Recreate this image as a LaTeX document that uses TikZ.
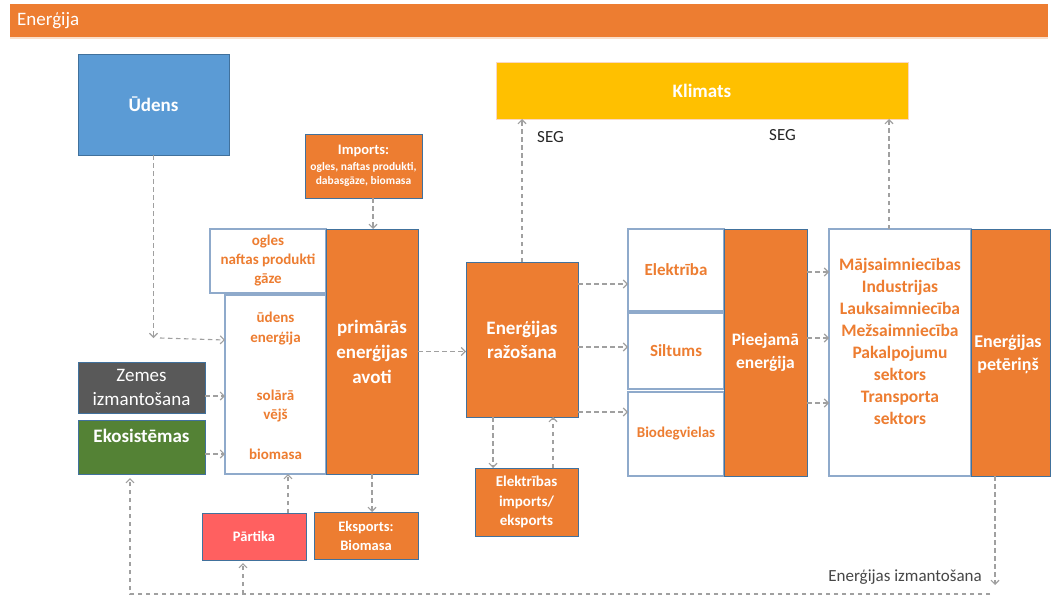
\documentclass[tikz,border=0pt]{standalone}
\usepackage{fontspec}
\setmainfont{Carlito}
\usetikzlibrary{arrows.meta}
\definecolor{orng}{HTML}{ED7D31}
\definecolor{bluebx}{HTML}{5B9BD5}
\definecolor{greybx}{HTML}{595959}
\definecolor{greenbx}{HTML}{548235}
\definecolor{yellowbx}{HTML}{FFC000}
\definecolor{redbx}{HTML}{FF6060}
\definecolor{bordc}{HTML}{41719C}
\definecolor{wbord}{HTML}{8FAACB}
\definecolor{arrc}{HTML}{A0A0A0}
\definecolor{darktxt}{HTML}{262626}
\newcommand\myfs[2]{\fontsize{#1}{#2}\selectfont}
\begin{document}
\begin{tikzpicture}[x=1pt,y=-1pt,
  bx/.style={draw=bordc, line width=0.8pt, outer sep=0pt, inner sep=0pt, anchor=north west, align=center, text=white, font=\bfseries},
  wb/.style={bx, fill=white, draw=wbord, line width=1.3pt, text=orng},
  arr/.style={draw=arrc, line width=1.1pt, dash pattern=on 4.5pt off 3.5pt, -{Straight Barb[length=4pt,width=8pt]}},
  lbl/.style={inner sep=0pt, align=center, text=orng, font=\bfseries}]
\useasboundingbox (0,0) rectangle (1052,599);
\fill[white] (0,0) rectangle (1052,599);
% title bar
\node[anchor=north west, fill=orng, minimum width=1038pt, minimum height=33pt, inner sep=0pt, outer sep=0pt] (bar) at (10,4) {};
\fill[orng!25] (bar.south west) rectangle ([yshift=-2pt]bar.south east);
\node[anchor=west, text=white, inner sep=0pt, font=\myfs{19}{23}] (ttl) at (17,21) {Enerģija};
% boxes
\node[bx, fill=bluebx, minimum width=151pt, minimum height=101pt, font=\bfseries\myfs{19}{23}] (ud) at (78,54) {Ūdens};
\node[bx, fill=yellowbx, draw=orng!30, minimum width=412pt, minimum height=57pt, font=\bfseries\myfs{19}{23}] (klim) at (496,62) {Klimats};
\node[bx, fill=orng, minimum width=117pt, minimum height=64pt, font=\bfseries\myfs{11.5}{14}] (imp) at (305,134) {{\myfs{14.5}{14}Imports:}\\[2pt]ogles, naftas produkti,\\dabasgāze, biomasa};
\node[wb, minimum width=116pt, minimum height=64pt, font=\bfseries\myfs{15}{19}] (og) at (210,229) {ogles\\naftas produkti\\gāze};
\node[wb, minimum width=101pt, minimum height=179pt] (ue) at (225,295) {};
\node[bx, fill=orng, minimum width=92pt, minimum height=245pt, font=\bfseries\myfs{19}{25}] (prim) at (326,229) {primārās\\enerģijas\\avoti};
\node[bx, fill=greybx, minimum width=127pt, minimum height=51pt, font=\myfs{19}{24}] (zem) at (78,362) {Zemes\\izmantošana};
\node[bx, fill=greenbx, minimum width=127pt, minimum height=54pt] (eko) at (78,420) {};
\node[bx, fill=orng, minimum width=112pt, minimum height=155pt, font=\bfseries\myfs{19}{24}] (raz) at (466,262) {Enerģijas\\ražošana};
\node[bx, fill=orng, minimum width=103pt, minimum height=68pt, font=\bfseries\myfs{15}{19.5}] (elim) at (475,468) {Elektrības\\imports/\\eksports};
\node[bx, fill=redbx, minimum width=104pt, minimum height=47pt, font=\bfseries\myfs{14.5}{18}] (part) at (202,513) {Pārtika};
\node[bx, fill=orng, minimum width=104pt, minimum height=47pt, font=\bfseries\myfs{14.5}{19}] (eksp) at (314,512) {Eksports:\\Biomasa};
\node[wb, minimum width=96pt, minimum height=82pt, font=\bfseries\myfs{17}{20}] (elek) at (628,229) {Elektrība};
\node[wb, minimum width=96pt, minimum height=76pt, font=\bfseries\myfs{17}{20}] (silt) at (628,313) {Siltums};
\node[wb, minimum width=96pt, minimum height=84pt, font=\bfseries\myfs{15}{18}] (bio) at (628,392) {Biodegvielas};
\node[bx, fill=orng, minimum width=83pt, minimum height=247pt, font=\bfseries\myfs{17.5}{23}] (piee) at (724,229) {Pieejamā\\enerģija};
\node[wb, minimum width=142pt, minimum height=247pt] (cons) at (829,229) {};
\node[bx, fill=orng, minimum width=79pt, minimum height=247pt] (pet) at (971,229) {};
% texts inside boxes
\node[lbl, font=\bfseries\myfs{15}{20}] (t1) at (275.5,329) {ūdens\\enerģija};
\node[lbl, font=\bfseries\myfs{15}{19}] (t2) at (275.5,406.5) {solārā\\vējš};
\node[lbl, font=\bfseries\myfs{15}{19}] (t3) at (275.5,454) {biomasa};
\node[lbl, text=white, font=\bfseries\myfs{19}{23}] (tek) at (141.5,436) {Ekosistēmas};
\node[lbl, font=\bfseries\myfs{17.5}{22}] (tcons) at (900,341.5) {Mājsaimniecības\\Industrijas\\Lauksaimniecība\\Mežsaimniecība\\Pakalpojumu\\sektors\\Transporta\\sektors};
\node[lbl, text=white, font=\bfseries\myfs{18}{23}] (tpet) at (1008,354.5) {Enerģijas\\petēriņš};
% labels
\node[anchor=west, inner sep=0pt, text=darktxt, font=\myfs{17}{20}] (seg1) at (537,137) {SEG};
\node[anchor=west, inner sep=0pt, text=darktxt, font=\myfs{17}{20}] (seg2) at (769,135) {SEG};
\node[anchor=east, inner sep=0pt, text=darktxt!85, font=\myfs{17}{20}] (izm) at (982,577) {Enerģijas izmantošana};
% coordinates
\coordinate (udc) at (153.5,338);
\coordinate (loopR) at (990,594);
\coordinate (loopL) at (130,594);
\coordinate (partx) at (243,594);
\coordinate (petend) at (995,585);
% arrows
\draw[arr] (imp.south -| 373,0) -- (prim.north -| 373,0);
\draw[arr] (ud.south) -- (udc);
\draw[arr] (udc -| 160,0) -- (ue.west |- 0,340);
\draw[arr] (zem.east |- 0,396) -- (ue.west |- 0,396);
\draw[arr] (eko.east |- 0,454) -- (ue.west |- 0,454);
\draw[arr] (prim.east) -- (raz.west |- prim.east);
\draw[arr] (raz.north) -- (klim.south -| raz.north);
\draw[arr] (raz.east |- 0,284) -- (elek.west |- 0,284);
\draw[arr] (raz.east |- 0,347) -- (silt.west |- 0,347);
\draw[arr] (raz.east |- 0,412) -- (bio.west |- 0,412);
\draw[arr] (raz.south -| 493,0) -- (elim.north -| 493,0);
\draw[arr] (elim.north -| 553,0) -- (raz.south -| 553,0);
\draw[arr] (prim.south) -- (eksp.north -| prim.south);
\draw[arr] (part.north -| 288,0) -- (ue.south -| 288,0);
\draw[arr] (piee.east |- 0,272) -- (cons.west |- 0,272);
\draw[arr] (piee.east |- 0,338) -- (cons.west |- 0,338);
\draw[arr] (piee.east |- 0,403) -- (cons.west |- 0,403);
\draw[arr] (cons.north -| 889,0) -- (klim.south -| 889,0);
\draw[arr] (pet.south -| petend) -- (petend);
\draw[arr, shorten >=4pt] (loopR) -- (loopL) -- (eko.south -| loopL);
\draw[arr, shorten >=3pt] (partx) -- (part.south -| partx);
\end{tikzpicture}
\end{document}
